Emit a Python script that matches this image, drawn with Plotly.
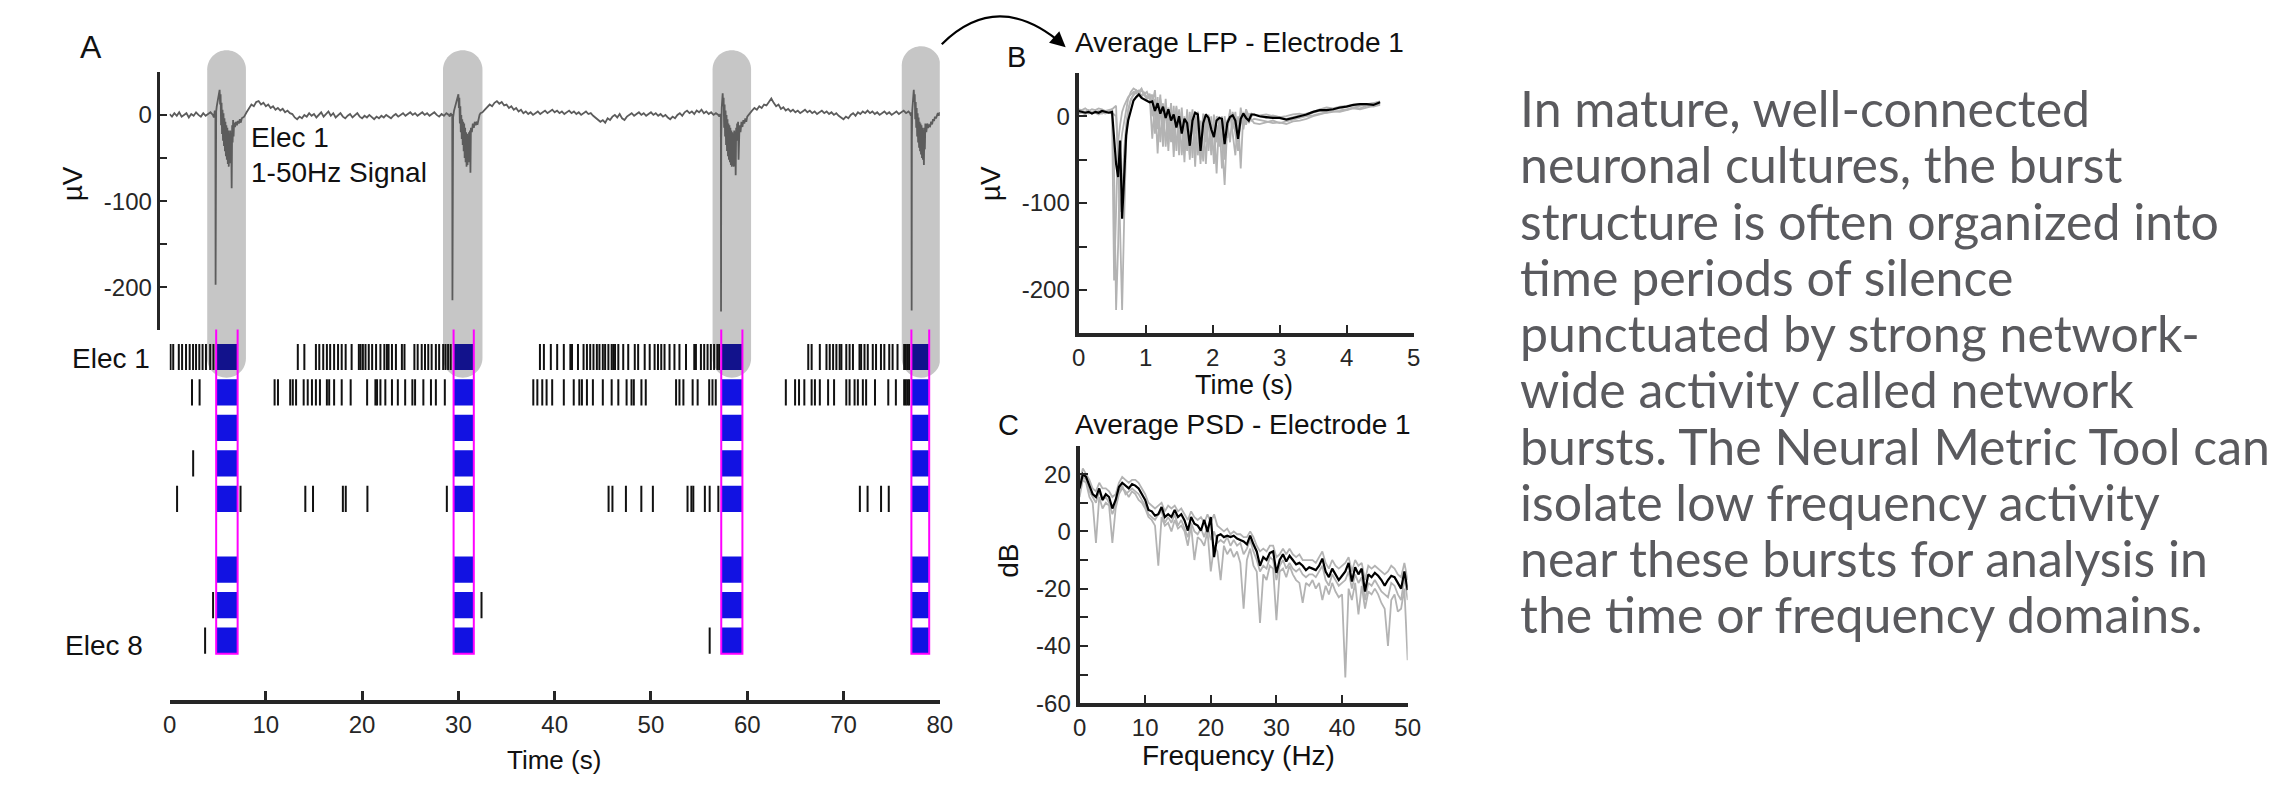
import plotly.graph_objects as go

W, H = 2291, 786


def px(x):
    return x / W


def py(y):
    return 1 - y / H


FONT = "Liberation Sans, Arial, sans-serif"
AX = "#262626"

# ---------------- Panel A : Elec 1, 1-50 Hz LFP (uV) ----------------
STEP = 0.25
base1_t0 = 0.0
base1_v = [1, -2, 2, -1, 3, -2, 0, 2, -3, 1, -1, 3, 0, -2, 2, -1, 1, 3, 0]

burst1_t = [4.60, 4.70, 4.76, 4.78, 4.80, 4.84, 4.90, 5.00, 5.10, 5.20, 5.25, 5.30, 5.35, 5.40, 5.45,
            5.50, 5.55, 5.60, 5.65, 5.70, 5.75, 5.80, 5.85, 5.90, 5.95, 6.00, 6.05, 6.10, 6.15, 6.20,
            6.25, 6.30, 6.35, 6.40, 6.45, 6.50, 6.55, 6.60, 6.65, 6.70, 6.80, 6.90, 7.00, 7.10, 7.20,
            7.30, 7.40, 7.50]
burst1_v = [-3, 5, 2, -197, -20, 4, 10, 16, 21, 29, 12, 24, -12, 14, -22,
            6, -30, 2, -36, -4, -42, -8, -48, -12, -52, -15, -57, -18, -60, -22,
            -56, -18, -50, -24, -85, -12, -32, -6, -25, -9, -14, -8, -12, -7, -10,
            -5, -9, -4]

base2_t0 = 7.75
base2_v = [-2, 3, 8, 12, 10, 15, 16, 12, 14, 10, 12, 8, 10, 6, 8, 5, 7, 3, 5, 2, 1, -3, -5, -2, -4,
           0, -2, 2, -1, 1, -3, 0, 3, -2, 1, 4, -1, 2, -3, 0, 2, -2, -4, -1, 1, -3, 0, 2, -2, -4,
           -1, -3, 0, -2, -5, -2, -4, -1, -3, 0, -2, -4, -1, 1, -2, 0, 2, -1, 1, 3, 0, 2, -1, 1,
           3, 0, 2, -1, 1, 3, 0, -2, 1, -1, 2]

burst2_t = [29.00, 29.10, 29.20, 29.30, 29.36, 29.38, 29.40, 29.45, 29.55, 29.70, 29.85, 30.00,
            30.05, 30.10, 30.15, 30.20, 30.25, 30.30, 30.35, 30.40, 30.45, 30.50, 30.55, 30.60,
            30.65, 30.70, 30.75, 30.80, 30.85, 30.90, 30.95, 31.00, 31.05, 31.10, 31.15, 31.20,
            31.25, 31.30, 31.40, 31.50, 31.60, 31.70, 31.80, 31.90, 32.00, 32.10, 32.20, 32.30]
burst2_v = [0, -2, 2, -1, 1, -215, -25, -3, 5, 12, 18, 24,
            8, 20, -10, 10, -20, 0, -28, -5, -35, -8, -42, -10,
            -50, -15, -55, -20, -60, -22, -58, -25, -55, -20, -50, -18,
            -67, -15, -20, -10, -15, -8, -12, -9, -10, -4, 0, 2]

base3_t0 = 32.5
base3_v = [3, 6, 9, 12, 10, 14, 16, 13, 15, 11, 12, 8, 10, 6, 8, 4, 6, 2, 4, 1, 3, 0, 2, 4, 1,
           3, 5, 2, 4, 6, 3, 5, 2, 4, 1, 3, 5, 2, 4, 1, 3, 0, 2, 4, 1, 2, -1, -3, -5, -8,
           -6, -9, -4, -6, -2, 0, -3, 1, -4, -6, -2, 0, 2, -1, 1, 3, 0, 2, -1, 1, 3, 0, 2, -1,
           1, -2, 0, -3, -5, -2, -4, 0, 2, -1, 3, 5, 2, 4, 1, 5, 3, 6, 2, 4, 1, 3, 0, 2]

burst3_t = [57.00, 57.10, 57.20, 57.26, 57.28, 57.30, 57.35, 57.45, 57.50, 57.55, 57.60, 57.65,
            57.70, 57.75, 57.80, 57.85, 57.90, 57.95, 58.00, 58.05, 58.10, 58.15, 58.20, 58.25,
            58.30, 58.35, 58.40, 58.45, 58.50, 58.55, 58.60, 58.65, 58.70, 58.75, 58.80, 58.85,
            58.90, 58.95, 59.00, 59.05, 59.10, 59.20, 59.30, 59.40, 59.50, 59.60, 59.70, 59.80,
            59.90, 60.00]
burst3_v = [0, -2, 1, -1, -228, -30, 8, 25, 10, 20, -15, 12,
            -25, 5, -35, 0, -42, -5, -48, -10, -52, -12, -55, -15,
            -58, -18, -60, -20, -58, -22, -60, -18, -55, -20, -70, -15,
            -30, -10, -20, -8, -52, -12, -20, -8, -14, -6, -10, -4,
            -8, -2]

base4_t0 = 60.25
base4_v = [2, 5, 8, 6, 10, 8, 12, 11, 15, 19, 14, 10, 12, 7, 9, 5, 7, 4, 6, 3, 5, 2, 4, 6, 3,
           5, 2, 4, 1, 3, 5, 2, 4, 1, 3, 0, 2, -1, -3, -5, -2, -4, 0, 2, -1, 3, 1, 4, 2, 5,
           2, 4, 1, 3, 0, 2, 4, 1, 3, 0, 2, 4, 1, 3, 5, 2, 4]

burst4_t = [76.90, 77.00, 77.06, 77.08, 77.10, 77.14, 77.20, 77.30, 77.35, 77.40, 77.45, 77.50,
            77.55, 77.60, 77.65, 77.70, 77.75, 77.80, 77.85, 77.90, 77.95, 78.00, 78.05, 78.10,
            78.15, 78.20, 78.25, 78.30, 78.35, 78.40, 78.45, 78.50, 78.60, 78.70, 78.80, 78.90,
            79.00, 79.10, 79.20, 79.30, 79.40, 79.50, 79.60, 79.70, 79.80, 79.90, 80.00]
burst4_v = [2, -1, 3, -227, -30, 5, 18, 29, 15, 24, -5, 15,
            -15, 8, -25, 2, -32, -3, -38, -8, -42, -10, -46, -12,
            -50, -15, -52, -18, -58, -15, -40, -10, -20, -10, -15, -12,
            -13, -8, -11, -5, -7, -2, -4, 0, 2, -1, 3]

# ---------------- Panel A : spike raster (s) ----------------
row1_spikes = [0.10, 0.38, 0.96, 1.30, 1.71, 2.09, 2.44, 2.75, 3.09, 3.43, 3.78, 4.22, 4.56,
               13.32, 14.0, 15.2, 15.55, 15.96, 16.34, 16.68, 17.09, 17.5, 17.88, 18.29, 18.91,
               19.66, 19.84, 20.08, 20.35, 20.69, 21.04, 21.45, 21.9, 22.31, 22.58, 22.75, 23.1,
               23.51, 24.13, 24.4, 25.43, 25.77, 26.19, 26.53, 26.87, 27.22, 27.66, 28.0, 28.42,
               28.66, 28.93, 29.2,
               38.47, 38.88, 39.6, 40.26, 40.95, 41.63, 41.8, 42.42, 43.0, 43.35, 43.69, 44.03,
               44.38, 44.65, 45.0, 45.24, 45.58, 45.92, 46.09, 46.27, 46.61, 47.12, 47.64, 48.32,
               48.67, 49.35, 49.87, 50.38, 50.73, 51.07, 51.41, 51.93, 52.44, 52.96, 53.64, 54.5,
               54.67, 55.19, 55.53, 55.88, 56.22, 56.56, 56.9, 57.08,
               66.34, 66.69, 67.54, 68.23, 68.57, 68.92, 69.26, 69.6, 69.78, 70.29, 70.63, 70.98,
               71.66, 71.83, 72.18, 72.52, 73.04, 73.38, 73.89, 74.24, 74.75, 75.1, 75.61, 76.3,
               76.47, 76.64, 76.81]
row2_spikes = [2.33, 3.12, 10.91, 11.26, 12.53, 12.8, 13.14, 13.93, 14.35, 14.79, 15.2, 15.62,
               16.34, 16.58, 17.09, 17.88, 18.81, 20.52, 21.38, 21.55, 21.9, 22.41, 23.1, 23.71,
               24.47, 25.22, 25.5, 26.36, 27.15, 27.66, 28.59,
               37.78, 38.2, 38.71, 39.16, 39.74, 40.95, 41.98, 42.56, 42.83, 43.35, 43.97, 45.0,
               45.92, 46.61, 47.47, 47.98, 48.22, 49.01, 49.46, 52.61, 52.96, 53.37, 54.33, 54.85,
               56.05, 56.39, 56.73,
               64.01, 64.97, 65.38, 65.93, 66.69, 67.03, 67.54, 68.4, 69.02, 70.29, 70.63, 71.15,
               71.49, 72.01, 72.35, 73.27, 74.65, 75.44, 76.3, 76.47, 76.64, 76.81]
row4_spikes = [2.45]
row5_spikes = [0.78, 7.37, 14.1, 14.9, 18.0, 18.3, 20.55, 28.8, 45.6, 46.0, 47.4, 49.0, 50.2,
               53.8, 54.2, 54.4, 55.6, 56.1, 57.0, 71.7, 72.5, 73.9, 74.7]
row8_spikes = [4.52, 32.4]
row9_spikes = [3.69, 56.1]
raster_rows = {1: row1_spikes, 2: row2_spikes, 4: row4_spikes, 5: row5_spikes,
               8: row8_spikes, 9: row9_spikes}

burst_start = [4.84, 29.5, 57.3, 77.05]
burst_end = [7.07, 31.6, 59.5, 78.9]
burst_rows = [1, 2, 3, 4, 5, 7, 8, 9]
shade_start = [3.91, 28.4, 56.4, 76.05]
shade_end = [7.93, 32.5, 60.4, 80.06]
shade_top_px = [51, 51, 51, 47]

time_ticks_a = [0, 10, 20, 30, 40, 50, 60, 70, 80]

# ---------------- Panel B : average LFP ----------------
b_t = [0.00, 0.05, 0.10, 0.15, 0.20, 0.25, 0.30, 0.35, 0.40, 0.45, 0.50,
       0.53, 0.56, 0.59, 0.62, 0.65, 0.68, 0.71, 0.74,
       0.78, 0.82, 0.86, 0.90, 0.94, 0.98, 1.02, 1.06, 1.10, 1.14, 1.18, 1.22, 1.26, 1.30, 1.34,
       1.38, 1.42, 1.46, 1.50, 1.54, 1.58, 1.62, 1.66, 1.70, 1.74, 1.78, 1.82, 1.86, 1.90, 1.94,
       1.98, 2.02, 2.06, 2.10, 2.14, 2.18, 2.22, 2.26, 2.30, 2.34, 2.38, 2.42, 2.46, 2.50, 2.54,
       2.58, 2.62,
       2.70, 2.80, 2.90, 3.00, 3.10, 3.20, 3.30, 3.40, 3.50, 3.60, 3.70, 3.80, 3.90, 4.00, 4.10,
       4.20, 4.30, 4.40, 4.50]
b_mean = [6, 5, 4, 5, 3, 5, 4, 6, 5, 4, 5,
          -25, -55, -70, -28, -118, -60, -22, -5,
          8, 18, 22, 25, 21, 19, 18, 16, 17, 6, 15, 3, 11, -2, 8, -5, 2, -13, 0, -20,
          -3, -8, -34, -5, 4, 2, -40, -8, 2, -2, -15, -24, -5, -2, -3, -32, -8, -1, 1, -5,
          -26, -3, 3, -2, -5, 2, 2,
          0, -1, -2, -2, -4, -2, 0, 2, 5, 7, 7, 8, 10, 11, 13, 14, 14, 13, 16]
b_burst1 = [8, 7, 9, 6, 8, 7, 9, 8, 6, 7, 8,
            -60, -223, -150, -40, -20, -5, 10, 20,
            28, 32, 30, 27, 24, 26, 22, 24, -26, 20, -43, 18, -35, 15, -40, 12, -47, 10, -45, 5,
            -53, 8, -50, 2, -58, 5, -50, 0, -55, 2, -40, -5, -66, 0, -30, -79, -10, 5, -20, -45,
            0, -60, 5, -10, 3, -5, -3,
            -4, -6, -8, -7, -9, -6, -5, -3, 0, 2, 4, 5, 6, 8, 10, 9, 12, 11, 13]
b_burst2 = [3, 4, 2, 5, 3, 4, 2, 4, 3, 5, 4,
            2, 0, -40, -150, -223, -120, -30, 5,
            18, 26, 30, 28, 32, 25, 28, 20, 25, -20, 22, -30, 15, -35, 10, -30, 12, -40, 8, -45,
            0, -40, 5, -48, 0, -45, -5, -52, 3, -40, 0, -55, -10, -35, 0, -50, -5, -30, 5, -20,
            -40, 0, -15, 5, -8, 0, 2,
            0, -2, 1, -1, 0, 2, 3, 1, 4, 6, 5, 8, 9, 7, 10, 12, 14, 15, 17]
b_burst3 = [6, 4, 5, 3, 5, 4, 6, 3, 5, 4, 3,
            -189, -100, -30, -10, 5, 12, 18, 22,
            25, 28, 26, 30, 22, 28, 20, 26, 15, 30, -10, 25, -25, 20, -20, 15, -30, 12, -25, 10,
            -35, 5, -30, 8, -40, 5, -35, 3, -30, 0, -45, 2, -30, -5, -60, 0, -25, 8, -15, 5,
            -25, 10, -10, 8, 0, -4, -8,
            -9, -7, -5, -8, -6, -4, -2, 0, 1, 3, 4, 6, 5, 7, 9, 8, 10, 12, 14]
b_burst4 = [4, 6, 5, 7, 4, 6, 5, 7, 5, 6, 8,
            10, 12, -60, -110, -90, -40, -10, 8,
            20, 24, 28, 26, 30, 24, 20, 22, 0, 15, -15, 20, -10, 12, -25, 8, -15, 5, -30, 2,
            -25, 0, -45, 5, -20, 3, -55, 0, -10, -2, -30, -40, 0, -5, -10, -45, -5, 0, 2, -10,
            -30, -5, 0, -5, 2, 3, 1,
            1, 2, 0, -1, -3, -1, 1, 3, 5, 8, 10, 9, 11, 12, 13, 14, 13, 15, 16]

# ---------------- Panel C : average PSD (dB) ----------------
psd_f = [i * 0.5 for i in range(101)]
psd_mean = [15, 20, 19, 16, 13, 12, 15, 11, 13, 12, 8, 11, 15.5, 17, 16, 15, 16.5, 16, 15, 13, 11,
            7.5, 7, 5.5, 6, 8.5, 5, 6, 5, 7.5, 5, 6, 3.8, 0.3, 5, 2.7, 2, 0.3, 4, -0.2, 5,
            -9, -1.5, -1, -2, -1.5, -2, -1.5, -2.5, -3, -3.5, -4.5, -1.5, -4.5, -7, -12, -9, -10,
            -7.5, -7, -14.5,
            -10, -8, -10.5, -8.5, -10, -11.5, -11, -12, -13.5, -12.5, -13, -13.5, -12, -9.5, -14,
            -16, -13, -15, -17, -15.5,
            -14, -11, -17.5, -12.5, -15, -13, -21, -15, -16, -14.5, -15.5, -17, -19, -17, -15.5,
            -16, -18, -20, -14, -20.5]
psd_burst_a = [17, 22, 20, 18, 15, 14, 17, 15, 15, 14, 12, 13, 17, 19, 18, 17, 18, 18, 17, 15, 13,
               10, 9, 8, 9, 10, 7, 9, 8, 9, 7, 8, 6, 4, 7, 5, 4, 5, 3, 6, 3,
               6, 2, 1, 0, 1, -1, 0, -1, -1, -2, -2, 0, -2, -5, -7, -6, -7, -5, -5, -9,
               -8, -6, -8, -6, -8, -9, -8, -10, -10, -10, -10, -11, -9, -7, -11, -13, -10, -12, -13, -12,
               -11, -9, -14, -10, -12, -11, -17, -12, -13, -12, -13, -14, -15, -14, -12, -13, -15, -16, -11, -17]
psd_burst_b = [12, 18, 17, 12, 10, -4, 12, 8, 10, 9, -4, 8, 13, 15, 14, 12, 14, 13, 11, 10, 8,
               5, 4, 2, -12, 5, 2, 3, 0, 4, 1, 2, 0, -5, 2, -10, -2, -3, -5, 0, -14,
               -5, -7, -17, -5, -8, -6, -9, -7, -11, -27, -10, -6, -12, -14, -32, -15, -17, -12, -13, -31,
               -14, -13, -16, -12, -15, -17, -18, -25, -18, -19, -17, -20, -18, -24, -19, -22, -18, -21, -23, -22,
               -51, -20, -24, -18, -29, -19, -27, -21, -22, -20, -22, -25, -27, -40, -24, -22, -28, -27, -20, -45]
psd_burst_c = [14, 19, 18, 14, 12, 10, 14, 11, 12, 10, 6, 9, 14, 16, 13, 14, 15, 14, 13, 11, 9,
               6, 5, 4, 6, 7, 3, 5, 3, 6, 2, 4, 1, -2, 3, 0, -1, 1, -2, 2, -3,
               0, -4, -3, -4, -2, -5, -3, -5, -4, -8, -6, -3, -7, -10, -14, -12, -13, -9, -10, -17,
               -12, -10, -13, -11, -13, -14, -13, -15, -16, -15, -15, -16, -14, -12, -17, -19, -15, -17, -19, -18,
               -17, -14, -20, -15, -18, -16, -24, -18, -19, -17, -19, -21, -22, -23, -18, -19, -22, -24, -16, -24]

text_lines = ["In mature, well-connected", "neuronal cultures, the burst",
              "structure is often organized into", "time periods of silence",
              "punctuated by strong network-", "wide activity called network",
              "bursts. The Neural Metric Tool can", "isolate low frequency activity",
              "near these bursts for analysis in", "the time or frequency domains."]

# ---------------- assemble signal ----------------
sig_t, sig_v = [], []
for t0, vals, bt, bv in [(base1_t0, base1_v, burst1_t, burst1_v),
                         (base2_t0, base2_v, burst2_t, burst2_v),
                         (base3_t0, base3_v, burst3_t, burst3_v),
                         (base4_t0, base4_v, burst4_t, burst4_v)]:
    sig_t += [t0 + STEP * i for i in range(len(vals))]
    sig_v += vals
    sig_t += bt
    sig_v += bv

fig = go.Figure()

fig.add_trace(go.Scatter(x=sig_t, y=sig_v, mode="lines", xaxis="x", yaxis="y",
                         line=dict(color="#5c5c5c", width=1.8), hoverinfo="skip"))

HALF = 0.37
rx_, ry_ = [], []
for r, spikes in raster_rows.items():
    for s in spikes:
        rx_ += [s, s, None]
        ry_ += [r - HALF, r + HALF, None]
fig.add_trace(go.Scatter(x=rx_, y=ry_, mode="lines", xaxis="x2", yaxis="y2",
                         line=dict(color="#111111", width=2), hoverinfo="skip"))

for vals in [b_burst1, b_burst2, b_burst3, b_burst4]:
    fig.add_trace(go.Scatter(x=b_t, y=vals, mode="lines", xaxis="x3", yaxis="y3",
                             line=dict(color="#b3b3b3", width=1.8), hoverinfo="skip"))
fig.add_trace(go.Scatter(x=b_t, y=b_mean, mode="lines", xaxis="x3", yaxis="y3",
                         line=dict(color="#000000", width=2.2), hoverinfo="skip"))

for vals in [psd_burst_a, psd_burst_b, psd_burst_c]:
    fig.add_trace(go.Scatter(x=psd_f, y=vals, mode="lines", xaxis="x4", yaxis="y4",
                             line=dict(color="#b3b3b3", width=1.8), hoverinfo="skip"))
fig.add_trace(go.Scatter(x=psd_f, y=psd_mean, mode="lines", xaxis="x4", yaxis="y4",
                         line=dict(color="#000000", width=2.2), hoverinfo="skip"))

# ---------------- shapes ----------------
shapes = []
K = 0.5523
px_per_s = (941 - 164) / 80.0


def pill(x0, x1, yt, yb, rx, ry):
    return (f"M {x0},{yb + ry} L {x0},{yt - ry} "
            f"C {x0},{yt - ry + K * ry} {x0 + rx - K * rx},{yt} {x0 + rx},{yt} "
            f"L {x1 - rx},{yt} "
            f"C {x1 - rx + K * rx},{yt} {x1},{yt - ry + K * ry} {x1},{yt - ry} "
            f"L {x1},{yb + ry} "
            f"C {x1},{yb + ry - K * ry} {x1 - rx + K * rx},{yb} {x1 - rx},{yb} "
            f"L {x0 + rx},{yb} "
            f"C {x0 + rx - K * rx},{yb} {x0},{yb + ry - K * ry} {x0},{yb + ry} Z")


for s0, s1, top in zip(shade_start, shade_end, shade_top_px):
    rad = (s1 - s0) * px_per_s / 2
    shapes.append(dict(type="path", xref="x", yref="paper", layer="below",
                       path=pill(s0, s1, py(top), py(384), rad / px_per_s, rad / H),
                       fillcolor="#c6c6c6", line=dict(width=0)))

for b0, b1 in zip(burst_start, burst_end):
    for r in burst_rows:
        shapes.append(dict(type="rect", xref="x2", yref="y2", layer="below",
                           x0=b0, x1=b1, y0=r - HALF, y1=r + HALF,
                           fillcolor="#12128c" if r == 1 else "#1212e2",
                           line=dict(width=0)))
    shapes.append(dict(type="rect", xref="x2", yref="y2", layer="above",
                       x0=b0, x1=b1, y0=burst_rows[0] - HALF - 0.58, y1=burst_rows[-1] + HALF,
                       fillcolor="rgba(0,0,0,0)", line=dict(color="#ff00ff", width=2)))

shapes.append(dict(type="path", xref="paper", yref="paper",
                   path=f"M {px(943)},{py(45)} Q {px(1000)},{py(-12)} {px(1066)},{py(46)}",
                   line=dict(color="#000000", width=2.2)))

# ---------------- annotations ----------------
ann = []


def txt(x, y, s, size=28, xanchor="center", color="#111111", angle=0, family=FONT):
    ann.append(dict(x=px(x), y=py(y), xref="paper", yref="paper", text=s, showarrow=False,
                    xanchor=xanchor, yanchor="middle", textangle=angle,
                    font=dict(family=family, size=size, color=color)))


txt(85, 48, "A", 32)
txt(1018, 58, "B", 29)
txt(1010, 432, "C", 29)
txt(244, 140, "Elec 1", 28, "left")
txt(244, 175, "1-50Hz Signal", 28, "left")
txt(146, 365, "Elec 1", 28, "right")
txt(139, 656, "Elec 8", 28, "right")
txt(66, 187, "µV", 28, angle=-90)
txt(552, 773, "Time (s)", 26)
txt(1243, 43, "Average LFP - Electrode 1", 28)
txt(993, 187, "µV", 28, angle=-90)
txt(1248, 391, "Time (s)", 27)
txt(1247, 432, "Average PSD - Electrode 1", 28)
txt(1010, 570, "dB", 28, angle=-90)
txt(1242, 768, "Frequency (Hz)", 28)

for i, line in enumerate(text_lines):
    txt(1524, 110 + 57.2 * i, line, 50, "left", "#5a5a5e", family="Lato, Noto Sans, sans-serif")

ann.append(dict(x=px(1068), y=py(48), xref="paper", yref="paper", text="", showarrow=True,
                ax=-9, ay=-8, arrowhead=2, arrowsize=1.4, arrowwidth=2.2,
                arrowcolor="#000000", standoff=0))

tickfont = dict(family=FONT, size=24, color=AX)
common = dict(showgrid=False, zeroline=False, showline=True, linecolor=AX, ticks="inside",
              tickcolor=AX, tickfont=tickfont)

fig.update_layout(
    width=W, height=H, margin=dict(l=0, r=0, t=0, b=0),
    paper_bgcolor="white", plot_bgcolor="rgba(0,0,0,0)", showlegend=False,
    shapes=shapes, annotations=ann,
    xaxis=dict(domain=[px(164), px(941)], range=[0, 80], visible=False, anchor="y"),
    yaxis=dict(domain=[py(336), py(73)], range=[-250, 50], anchor="free", position=px(152),
               linewidth=3, ticklen=7, tickwidth=2,
               tickvals=[-200, -150, -100, -50, 0], ticktext=["-200", "", "-100", "", "0"],
               **common),
    xaxis2=dict(domain=[px(164), px(941)], range=[0, 80], anchor="y2", linewidth=4,
                ticklen=9, tickwidth=3, tickvals=time_ticks_a, **common),
    yaxis2=dict(domain=[py(712), py(335)], range=[10.684, 0.2231], visible=False, anchor="x2"),
    xaxis3=dict(domain=[px(1081), px(1419)], range=[0, 5], anchor="y3", linewidth=4,
                ticklen=8, tickwidth=2, tickvals=[0, 1, 2, 3, 4, 5], **common),
    yaxis3=dict(domain=[py(339), py(74)], range=[-250, 50], anchor="x3", linewidth=4,
                ticklen=8, tickwidth=2,
                tickvals=[-200, -150, -100, -50, 0], ticktext=["-200", "", "-100", "", "0"],
                **common),
    xaxis4=dict(domain=[px(1082), px(1413)], range=[0, 50], anchor="y4", linewidth=4,
                ticklen=8, tickwidth=2, tickvals=[0, 10, 20, 30, 40, 50], **common),
    yaxis4=dict(domain=[py(715), py(453)], range=[-60, 30], anchor="x4", linewidth=4,
                ticklen=8, tickwidth=2,
                tickvals=[-60, -50, -40, -30, -20, -10, 0, 10, 20],
                ticktext=["-60", "", "-40", "", "-20", "", "0", "", "20"], **common),
)

fig.write_html("out.html", config={"displayModeBar": False},
               post_script="document.documentElement.style.overflow='hidden';"
                           "document.body.style.margin='0px';"
                           "document.body.style.overflow='hidden';")
